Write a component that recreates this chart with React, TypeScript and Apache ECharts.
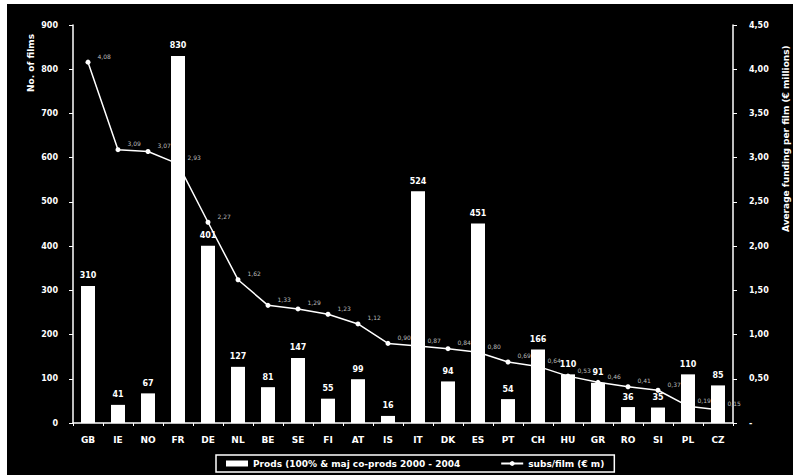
import React, { useEffect, useRef } from "react";
import * as echarts from "echarts";

const categories = ["GB", "IE", "NO", "FR", "DE", "NL", "BE", "SE", "FI", "AT", "IS", "IT", "DK", "ES", "PT", "CH", "HU", "GR", "RO", "SI", "PL", "CZ"];
const prods = [310, 41, 67, 830, 401, 127, 81, 147, 55, 99, 16, 524, 94, 451, 54, 166, 110, 91, 36, 35, 110, 85];
const subsPerFilm = [4.08, 3.09, 3.07, 2.93, 2.27, 1.62, 1.33, 1.29, 1.23, 1.12, 0.9, 0.87, 0.84, 0.8, 0.69, 0.64, 0.53, 0.46, 0.41, 0.37, 0.19, 0.15];
const barName = "Prods (100% & maj co-prods 2000 - 2004";
const lineName = "subs/film (€ m)";
const leftTitle = "No. of films";
const rightTitle = "Average funding per film (€ millions)";

const FONT = "DejaVu Sans";

export default function App() {
  const ref = useRef<HTMLDivElement>(null);
  useEffect(() => {
    if (!ref.current) return;
    const chart = echarts.init(ref.current, null, { renderer: "svg" });
    const fmt = (v: number) => v.toFixed(2).replace(".", ",");
    chart.setOption({
      animation: false,
      backgroundColor: "#ffffff",
      textStyle: { fontFamily: FONT },
      graphic: [
        { type: "rect", z: -100, shape: { x: 7, y: 4, width: 786, height: 471 }, style: { fill: "#000000" } },
        {
          type: "text", x: 31, y: 92, rotation: Math.PI / 2,
          style: { text: leftTitle, fill: "#ffffff", font: `bold 9px ${FONT}`, align: "left", verticalAlign: "middle" },
        },
        {
          type: "text", x: 786, y: 232, rotation: Math.PI / 2,
          style: { text: rightTitle, fill: "#ffffff", font: `bold 9px ${FONT}`, align: "left", verticalAlign: "middle" },
        },
      ],
      grid: { left: 73, right: 60, top: 25, bottom: 52 },
      legend: {
        bottom: 3,
        left: 216,
        itemGap: 40,
        itemWidth: 22,
        itemHeight: 6,
        padding: [4, 10, 4, 10],
        borderColor: "#ffffff",
        borderWidth: 1.5,
        textStyle: { color: "#ffffff", fontSize: 9, fontWeight: "bold", fontFamily: FONT },
        data: [
          { name: barName, icon: "rect" },
          { name: lineName },
        ],
      },
      xAxis: {
        type: "category",
        data: categories,
        axisLine: { lineStyle: { color: "#ffffff", width: 1.5 } },
        axisTick: { show: true, length: 3, lineStyle: { color: "#ffffff" } },
        axisLabel: { color: "#ffffff", fontSize: 9, fontWeight: "bold", margin: 12 },
      },
      yAxis: [
        {
          type: "value", min: 0, max: 900, interval: 100,
          axisLine: { show: true, lineStyle: { color: "#ffffff", width: 1.5 } },
          axisTick: { show: true, length: 4, lineStyle: { color: "#ffffff" } },
          splitLine: { show: false },
          axisLabel: { color: "#ffffff", fontSize: 8, fontWeight: "bold", margin: 15 },
        },
        {
          type: "value", min: 0, max: 4.5, interval: 0.5, position: "right",
          axisLine: { show: true, lineStyle: { color: "#ffffff", width: 1.5 } },
          axisTick: { show: true, length: 4, inside: false, lineStyle: { color: "#ffffff" } },
          splitLine: { show: false },
          axisLabel: {
            color: "#ffffff", fontSize: 8, fontWeight: "bold", margin: 16,
            formatter: (v: number) => (v === 0 ? "-" : fmt(v)),
          },
        },
      ],
      series: [
        {
          name: lineName,
          type: "line",
          yAxisIndex: 1,
          z: 2,
          data: subsPerFilm,
          symbol: "circle",
          symbolSize: 5,
          lineStyle: { color: "#ffffff", width: 1.5 },
          itemStyle: { color: "#ffffff" },
          label: {
            show: true, position: "right", offset: [2, -6], color: "#bbbbbb", fontSize: 6,
            formatter: (p: any) => fmt(p.value),
          },
        },
        {
          name: barName,
          type: "bar",
          yAxisIndex: 0,
          z: 3,
          data: prods,
          barWidth: 14,
          itemStyle: { color: "#ffffff" },
          label: { show: true, position: "top", color: "#ffffff", fontSize: 8, fontWeight: "bold", distance: 6 },
        },
      ],
    });
    return () => chart.dispose();
  }, []);
  return <div ref={ref} style={{ position: "fixed", left: 0, top: 0, width: 793, height: 475 }} />;
}
